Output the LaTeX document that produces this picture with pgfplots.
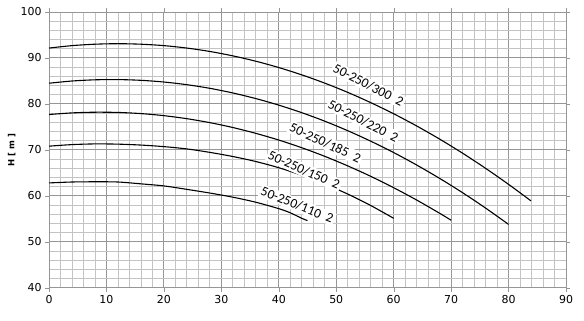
\documentclass[border=0pt]{standalone}
\usepackage{pgfplots}
\pgfplotsset{compat=1.18}
\usepackage{fontspec}
\setmainfont{DejaVu Sans}
\newfontfamily\lblfont{Carlito}
\definecolor{majgrid}{RGB}{150,150,150}
\definecolor{mingrid}{RGB}{195,195,195}
\begin{document}
\begin{tikzpicture}
\begin{axis}[
  name=ax,
  scale only axis,
  width=517bp, height=275.7bp,
  xmin=0, xmax=90, ymin=40, ymax=100,
  xtick={0,10,...,90}, ytick={40,50,...,100},
  minor tick num=4,
  grid=both,
  major grid style={majgrid, line width=0.9pt},
  minor grid style={mingrid, line width=0.8pt},
  axis line style={majgrid, line width=0.9pt},
  tick style={majgrid},
  major tick length=4bp, minor tick length=0pt,
  tick align=outside,
  tick label style={font=\fontsize{11}{13}\selectfont},
  /pgf/number format/assume math mode=true,
  ylabel={H [ m ]},
  ylabel style={font=\fontsize{8.5}{10}\selectfont\bfseries, at={(axis description cs:-0.072,0.5)}, anchor=center},
  cycle list={{black, mark=none}},
  every axis plot/.append style={line width=1.1pt, smooth},
  clip=false,
]
\addplot coordinates {(0,92.15) (4,92.68) (8,92.99) (12,93.1) (16,92.99) (20,92.68) (24,92.15) (28,91.41) (32,90.45) (36,89.29) (40,87.91) (44,86.32) (48,84.52) (52,82.51) (56,80.28) (60,77.85) (64,75.2) (68,72.34) (72,69.27) (76,65.98) (80,62.49) (83.9,58.9)};
\addplot coordinates {(0,84.5) (4,84.98) (8,85.24) (12,85.29) (16,85.13) (20,84.76) (24,84.18) (28,83.39) (32,82.38) (36,81.16) (40,79.73) (44,78.09) (48,76.24) (52,74.17) (56,71.89) (60,69.41) (64,66.7) (68,63.79) (72,60.67) (76,57.33) (80,53.78)};
\addplot coordinates {(0,77.69) (4,78.04) (8,78.19) (12,78.14) (16,77.89) (20,77.44) (24,76.78) (28,75.92) (32,74.86) (36,73.59) (40,72.13) (44,70.46) (48,68.59) (52,66.51) (56,64.24) (60,61.76) (64,59.08) (68,56.2) (70,54.68)};
\addplot coordinates {(0,70.8) (4,71.14) (8,71.29) (12,71.24) (16,71.04) (20,70.7) (24,70.2) (28,69.45) (32,68.55) (36,67.46) (40,66.11) (44,64.47) (48,62.57) (52,60.38) (56,57.89) (60,55.1)};
\addplot coordinates {(0,62.8) (4,63.0) (8,63.05) (12,63.0) (16,62.6) (20,62.15) (24,61.4) (28,60.6) (32,59.7) (36,58.6) (40,57.2) (42,56.3) (44,55.1) (45,54.6)};
\begin{scope}[every node/.style={fill=white, inner sep=1.5pt, font=\lblfont\fontsize{13.5}{15}\selectfont}]
\node[rotate=-27] at (axis cs:55.6,84.1) {50-250/300\ \ 2};
\node[rotate=-27] at (axis cs:54.7,76.3) {50-250/220\ \ 2};
\node[rotate=-25] at (axis cs:48.1,71.5) {50-250/185\ \ 2};
\node[rotate=-24] at (axis cs:44.4,65.6) {50-250/150\ \ 2};
\node[rotate=-22] at (axis cs:43.2,58.0) {50-250/110\ \ 2};
\end{scope}
\end{axis}
\path (ax.south west) ++(-49bp,-33bp) coordinate (bbA);
\path (ax.north east) ++(18bp,12bp) coordinate (bbB);
\pgfresetboundingbox
\useasboundingbox (bbA) rectangle (bbB);
\end{tikzpicture}
\end{document}
